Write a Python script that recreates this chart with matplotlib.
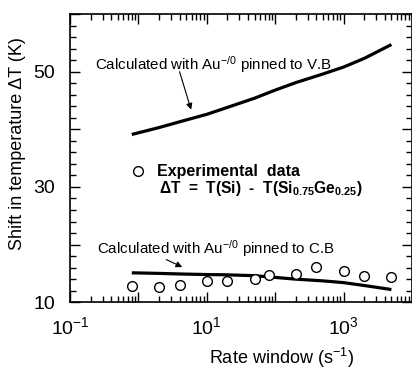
import matplotlib
matplotlib.use("Agg")
import matplotlib.pyplot as plt
from matplotlib.ticker import LogLocator, MultipleLocator, NullFormatter, FuncFormatter
import numpy as np

plt.rcParams['font.family'] = ['Liberation Sans', 'DejaVu Sans']
plt.rcParams['mathtext.fontset'] = 'custom'
plt.rcParams['mathtext.rm'] = 'Liberation Sans'
plt.rcParams['mathtext.bf'] = 'Liberation Sans:bold'
plt.rcParams['mathtext.it'] = 'Liberation Sans:italic'
plt.rcParams['mathtext.default'] = 'regular'

# Data
rate_calc = [0.8, 2, 4, 10, 20, 50, 100, 200, 500, 1000, 2000, 5000]
dT_vb = [39.1, 40.3, 41.3, 42.6, 43.8, 45.4, 46.8, 48.1, 49.6, 50.8, 52.3, 54.7]
dT_cb = [15.1, 15.0, 14.9, 14.8, 14.75, 14.6, 14.3, 14.0, 13.7, 13.4, 12.9, 12.2]

rate_exp = [0.8, 2, 4, 10, 20, 50, 80, 200, 400, 1000, 2000, 5000]
dT_exp = [12.8, 12.6, 12.9, 13.6, 13.7, 14.0, 14.8, 14.9, 16.1, 15.5, 14.6, 14.4]

xlabels = {-1: '$10^{-1}$', 1: '$10^{1}$', 3: '$10^{3}$'}
ylabels = [10, 30, 50]

fig = plt.figure(figsize=(4.12, 3.69), dpi=100)
ax = fig.add_axes([0.170, 0.181, 0.830, 0.781])

ax.plot(rate_calc, dT_vb, color='black', lw=2.3, solid_capstyle='butt')
ax.plot(rate_calc, dT_cb, color='black', lw=2.3, solid_capstyle='butt')
ax.plot(rate_exp, dT_exp, linestyle='none', marker='o', markersize=7,
        markerfacecolor='white', markeredgecolor='black', markeredgewidth=1.0,
        label='Experimental  data')

ax.set_xscale('log')
ax.set_xlim(0.1, 10000)
ax.set_ylim(10, 60)

ax.xaxis.set_major_locator(LogLocator(base=10, numticks=10))
ax.xaxis.set_minor_locator(LogLocator(base=10, subs=np.arange(2, 10), numticks=20))
ax.xaxis.set_major_formatter(FuncFormatter(lambda v, p: xlabels.get(int(round(np.log10(v))), '')))
ax.xaxis.set_minor_formatter(NullFormatter())

ax.yaxis.set_major_locator(MultipleLocator(10))
ax.yaxis.set_minor_locator(MultipleLocator(2))
ax.yaxis.set_major_formatter(FuncFormatter(lambda v, p: f'{int(round(v))}' if int(round(v)) in ylabels else ''))

ax.tick_params(which='both', direction='in', top=True, right=True, labelsize=14, width=1)
ax.tick_params(which='major', length=7)
ax.tick_params(which='minor', length=4)
ax.tick_params(axis='x', pad=10)
ax.tick_params(axis='y', pad=11)
for s in ax.spines.values():
    s.set_linewidth(1.2)

ax.set_xlabel('Rate window (s$^{-1}$)', fontsize=13)
ax.xaxis.set_label_coords(0.617, -0.153)
ax.set_ylabel('Shift in temperature ΔT (K)', fontsize=13)
ax.yaxis.set_label_coords(-0.13, 0.552)

ax.text(0.231, 50.3, 'Calculated with Au$^{-/0}$ pinned to V.B', fontsize=10.9,
        ha='left', va='baseline')
ax.annotate('', xy=(5.9, 43.4), xytext=(3.99, 50.0),
            arrowprops=dict(arrowstyle='-|>', color='black', lw=0.8, mutation_scale=9,
                            shrinkA=0, shrinkB=0))
ax.text(0.247, 18.4, 'Calculated with Au$^{-/0}$ pinned to C.B', fontsize=10.9,
        ha='left', va='baseline')
ax.annotate('', xy=(4.37, 16.1), xytext=(2.55, 17.4),
            arrowprops=dict(arrowstyle='-|>', color='black', lw=0.8, mutation_scale=9,
                            shrinkA=0, shrinkB=0))

leg = ax.legend(loc='center left', bbox_to_anchor=(0.181, 0.452), frameon=False,
                handletextpad=0.8, borderaxespad=0, borderpad=0, handlelength=0.8,
                prop={'weight': 'bold', 'size': 11.5})
ax.text(1.98, 28.9, r'ΔT  =  T(Si)  -  T(Si$_{\mathbf{0.75}}$Ge$_{\mathbf{0.25}}$)',
        fontsize=11.2, fontweight='bold', ha='left', va='baseline')

fig.savefig('out.png', dpi=100)
